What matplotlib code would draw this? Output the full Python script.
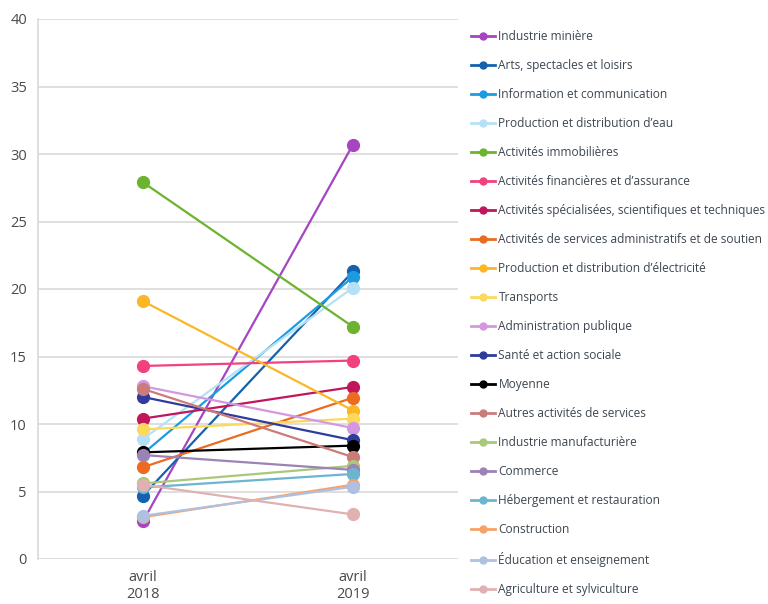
import matplotlib
matplotlib.use("Agg")
import matplotlib.pyplot as plt
from matplotlib.lines import Line2D

periods = ["avril\n2018", "avril\n2019"]
sectors = [
    "Industrie minière",
    "Arts, spectacles et loisirs",
    "Information et communication",
    "Production et distribution d\u2019eau",
    "Activités immobilières",
    "Activités financières et d\u2019assurance",
    "Activités spécialisées, scientifiques et techniques",
    "Activités de services administratifs et de soutien",
    "Production et distribution d\u2019électricité",
    "Transports",
    "Administration publique",
    "Santé et action sociale",
    "Moyenne",
    "Autres activités de services",
    "Industrie manufacturière",
    "Commerce",
    "Hébergement et restauration",
    "Construction",
    "Éducation et enseignement",
    "Agriculture et sylviculture",
]
values_2018 = [2.8, 4.7, 7.8, 8.9, 27.9, 14.3, 10.4, 6.8, 19.1, 9.6,
               12.8, 12.0, 7.9, 12.6, 5.6, 7.7, 5.3, 3.1, 3.2, 5.5]
values_2019 = [30.7, 21.3, 20.9, 20.1, 17.2, 14.7, 12.75, 11.95, 11.0, 10.4,
               9.7, 8.8, 8.4, 7.55, 6.9, 6.6, 6.3, 5.5, 5.35, 3.3]
colors = ["#a545c0", "#1462ad", "#1c9be2", "#b5e1f8", "#6cb32f", "#f2417c",
          "#c1155c", "#ec6b20", "#fbb726", "#fcd95c", "#d597df", "#2f3b9d",
          "#000000", "#cc7b7b", "#a9c87b", "#9b83b6", "#6cb4d0", "#f7a169",
          "#afc0e0", "#e0b1b1"]

fig = plt.figure(figsize=(7.68, 6.04), dpi=100)
ax = fig.add_axes([38/768, 1-559/604, 420/768, 540/604])

x = [0, 1]
handles = []
for i, (name, a, b, c) in enumerate(zip(sectors, values_2018, values_2019, colors)):
    ax.plot(x, [a, b], color=c, lw=1.6, marker="o", markersize=8.5,
            zorder=3 + i, solid_capstyle="round")
    handles.append(Line2D([0], [0], color=c, lw=2, marker="o", markersize=5))

ax.set_xlim(-0.5, 1.5)
ax.set_ylim(0, 40)
ax.set_yticks(range(0, 41, 5))
ax.set_xticks(x)
ax.set_xticklabels(periods)
ax.grid(axis="y", color="#d9d9d9", lw=1.2, zorder=0)
for s in ["top", "right", "bottom"]:
    ax.spines[s].set_visible(False)
ax.spines["left"].set_color("#d9d9d9")
ax.spines["left"].set_linewidth(1.2)
ax.tick_params(length=0, labelsize=10.5, colors="#4a4a4a", pad=8)
for t in ax.get_xticklabels() + ax.get_yticklabels():
    t.set_fontfamily("Open Sans")

leg = fig.legend(handles, sectors, loc="upper left",
                 bbox_to_anchor=(471/768, 1-30/604), frameon=False,
                 prop={"family": "Open Sans", "size": 8.6},
                 labelspacing=1.34, handlelength=2.0, handletextpad=0.3,
                 borderaxespad=0, borderpad=0)
for t in leg.get_texts():
    t.set_color("#3d4650")

fig.savefig("out.png", dpi=100)
